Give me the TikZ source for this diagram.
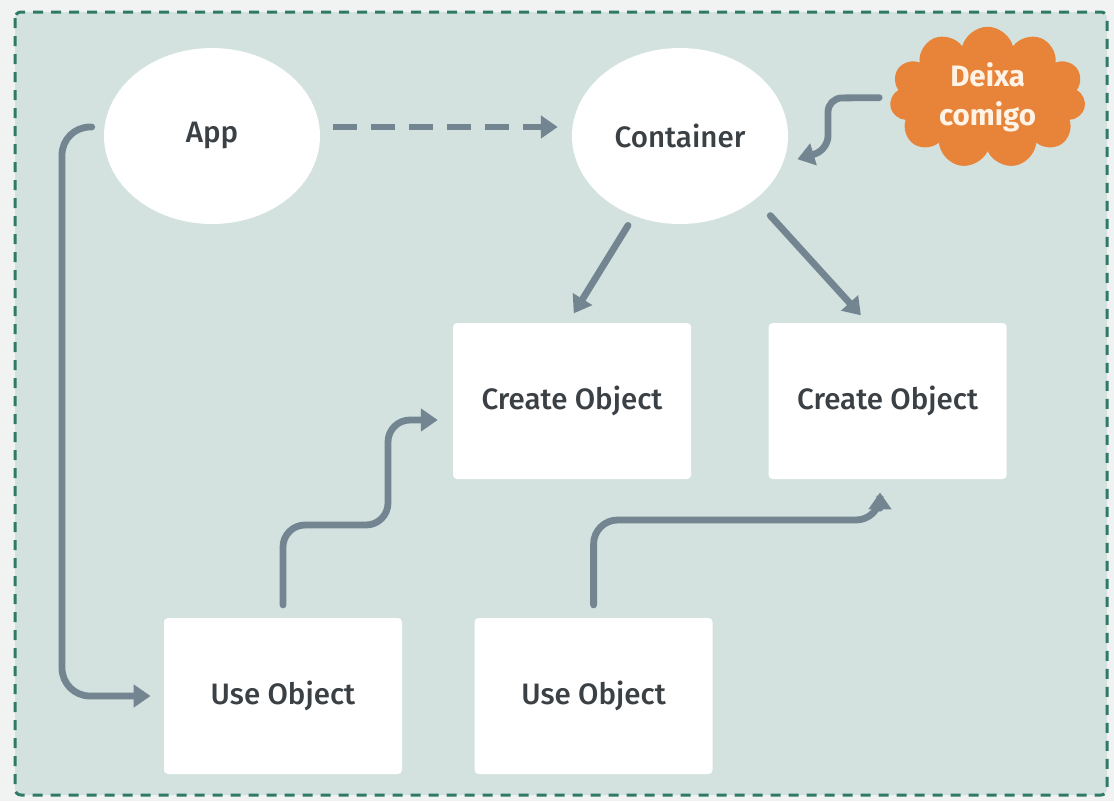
\documentclass[tikz,border=0pt]{standalone}
\usepackage{xcolor}
\usepackage{fontspec}
\setmainfont{Fira Sans}[UprightFont={* Medium}, BoldFont={* Bold}]
\usetikzlibrary {arrows.meta, positioning}
\usetikzlibrary {shapes.geometric, shapes.symbols, calc}
\definecolor{paper}{HTML}{F1F3F3}
\definecolor{board}{HTML}{D3E2DF}
\definecolor{frame}{HTML}{2F7A66}
\definecolor{wire}{HTML}{738591}
\definecolor{ink}{HTML}{3B4045}
\definecolor{puff}{HTML}{E8833A}
\definecolor{cream}{HTML}{FFF3E6}
\tikzset{
  >={Triangle[length=0.42cm,width=0.55cm]}
}

\begin{document}
\begin{tikzpicture}[font=\fontsize{21}{26}\selectfont, text=ink,
    bubble/.style={ellipse, fill=white, minimum width=5.4cm, minimum height=4.4cm},
    block/.style={rectangle, rounded corners=0.1cm, fill=white,
                  minimum width=5.95cm, minimum height=3.9cm},
    conn/.style={->, draw=wire, line width=0.17cm, line cap=round}]
    % board
    \fill[paper] (0, 0) rectangle (27.85, -20.025);
    \filldraw[fill=board, draw=frame, line width=0.075cm, rounded corners=0.15cm,
              dash pattern=on 0.25cm off 0.2cm] (0.375, -0.3) rectangle (27.675, -19.875);
    % element
    % 1. top row
    \node[bubble] (app) at (5.3, -3.4) {App};
    \node[bubble] (container) at (17, -3.4) {Container};
    \node[cloud, cloud puffs=11, aspect=1.45, fill=puff, text=cream, align=center,
          minimum width=4.9cm, minimum height=3.4cm,
          font=\bfseries\fontsize{21}{27.6}\selectfont] (helper) at (24.69, -2.44) {Deixa\\comigo};
    % 2. create
    \node[block] (create1) at (14.3, -10.025) {Create Object};
    \node[block] (create2) at (22.19, -10.025) {Create Object};
    % 3. use
    \node[block] (use1) at (7.075, -17.4) {Use Object};
    \node[block] (use2) at (14.84, -17.4) {Use Object};
    % bends
    \coordinate (lane) at (1.55, -10);
    \coordinate (bend) at (20.7, -2.45);
    \coordinate (hook) at (20.7, -3.75);
    \coordinate (jog1) at (9.7, -13.125);
    \coordinate (jog2) at (22.0, -13.0);
    % arrows
    \draw[conn, dash pattern=on 0.6cm off 0.35cm, line cap=butt,
          shorten <=0.325cm, shorten >=0.35cm]
        ([yshift=0.225cm]app.east) -- ([yshift=0.225cm]container.west);
    \draw[conn, rounded corners=0.7cm, shorten <=0.3cm, shorten >=0.33cm]
        ([yshift=0.225cm]app.west) -| (lane) |- (use1.west);
    \draw[conn, rounded corners=0.35cm, shorten <=0.3cm, shorten >=0.38cm]
        (helper.west) -- (bend) -- (hook) -- (container.-15);
    \draw[conn, shorten <=0.28cm, shorten >=0.275cm]
        (container.240) -- ([xshift=-0.1cm]create1.north);
    \draw[conn, shorten <=0.55cm, shorten >=0.25cm]
        (container.-40) -- ([xshift=-0.5cm]create2.north);
    \draw[conn, rounded corners=0.55cm, shorten <=0.32cm, shorten >=0.375cm]
        (use1.north) |- (jog1) |- ([yshift=-0.475cm]create1.west);
    \draw[conn, rounded corners=0.6cm, shorten <=0.32cm, shorten >=0.33cm]
        (use2.north) |- (jog2) [rounded corners=0.25cm] -- ([xshift=-0.19cm]create2.south);
\end{tikzpicture}
\end{document}
